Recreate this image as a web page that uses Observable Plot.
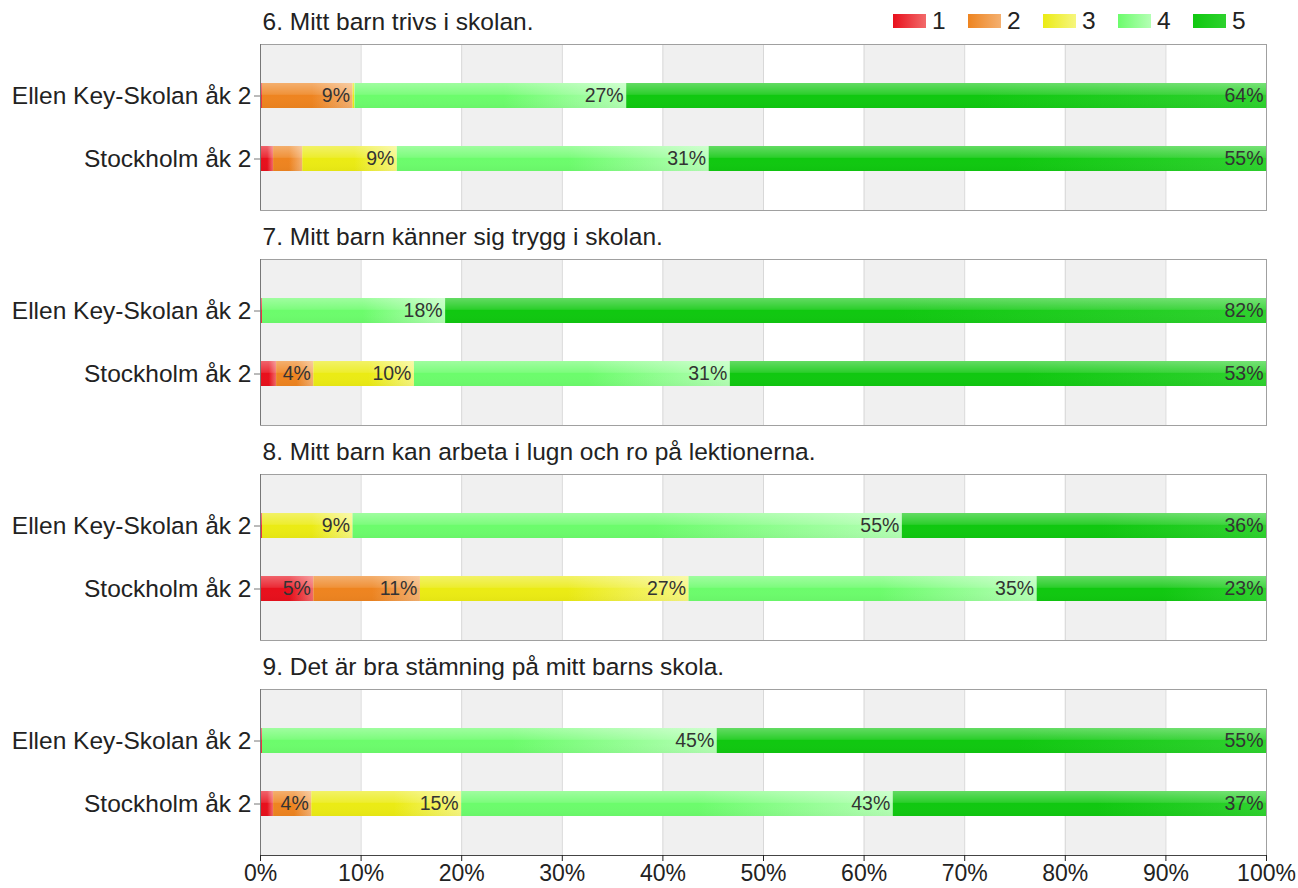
<!DOCTYPE html>
<html>
<head>
<meta charset="utf-8">
<script src="https://cdn.jsdelivr.net/npm/d3@7"></script>
<script src="https://cdn.jsdelivr.net/npm/@observablehq/plot@0.6"></script>
<style>
  html, body { margin: 0; padding: 0; background: #fff; }
  #wrap { position: relative; width: 1298px; height: 888px; font-family: "Liberation Sans", Arial, sans-serif; }
  #chart { position: absolute; left: 0; top: 0; }
  #legend { position: absolute; left: 893px; top: 7px; display: flex; align-items: center; font-size: 24.5px; color: #222; }
  .item { display: flex; align-items: center; width: 75px; }
  .sw { width: 33px; height: 14px; margin-right: 6px; }
</style>
</head>
<body>
<div id="wrap">
  <div id="chart"></div>
  <div id="legend"></div>
</div>
<script>
const questions = [
  "6. Mitt barn trivs i skolan.",
  "7. Mitt barn känner sig trygg i skolan.",
  "8. Mitt barn kan arbeta i lugn och ro på lektionerna.",
  "9. Det är bra stämning på mitt barns skola."
];
const groups = ["Ellen Key-Skolan åk 2", "Stockholm åk 2"];
const levels = ["1", "2", "3", "4", "5"];
// percentages per level 1..5, one row per question
const ellenKey = [
  [0.2, 9.0, 0.2, 27.0, 63.6],
  [0.2, 0, 0, 18.2, 81.6],
  [0.2, 0, 9.0, 54.6, 36.2],
  [0.2, 0, 0, 45.2, 54.6]
];
const stockholm = [
  [1.3, 2.9, 9.4, 31.0, 55.4],
  [1.6, 3.7, 10.0, 31.4, 53.3],
  [5.3, 10.6, 26.7, 34.6, 22.8],
  [1.3, 3.8, 14.9, 42.9, 37.1]
];
const baseColors = ["#e8101c", "#ee8420", "#ebeb14", "#6cfc6c", "#10c810"];
const lightColors = ["#f26a6a", "#f4b070", "#f6f67e", "#b4ffb4", "#2ed22e"];
const xTicks = [0, 10, 20, 30, 40, 50, 60, 70, 80, 90, 100];

const rows = [];
questions.forEach((q, qi) => {
  [ellenKey, stockholm].forEach((src, gi) => {
    src[qi].forEach((v, li) => {
      if (v > 0) rows.push({question: q, group: groups[gi], level: levels[li], li, value: v});
    });
  });
});
const bands = d3.range(0, 100, 20).map(a => ({x1: a, x2: a + 10}));
const lastQ = questions[questions.length - 1];

const plot = Plot.plot({
  width: 1298,
  height: 888,
  marginTop: 44,
  marginBottom: 33,
  marginLeft: 260,
  marginRight: 32,
  style: {fontFamily: '"Liberation Sans", Arial, sans-serif', color: "#222", background: "transparent"},
  x: {domain: [0, 100]},
  y: {domain: groups, paddingInner: 0.6, paddingOuter: 0.6},
  fy: {domain: questions, paddingInner: 0.228, paddingOuter: 0, axis: null},
  color: {type: "identity"},
  marks: [
    Plot.rectX(bands, {x1: "x1", x2: "x2", fill: "#f0f0f0"}),
    Plot.ruleX(xTicks.slice(1, -1), {stroke: "#d8d8d8"}),
    Plot.barX(rows, Plot.stackX({x: "value", y: "group", fy: "question", fill: d => `url(#grad${d.li})`})),
    Plot.barX(rows, Plot.stackX({x: "value", y: "group", fy: "question", fill: "url(#gloss)"})),
    Plot.text(rows, Plot.stackX2({
      x: "value", y: "group", fy: "question",
      text: d => d.value >= 3.5 ? Math.round(d.value) + "%" : "",
      textAnchor: "end", dx: -3, fontSize: 19.5, fill: "#333"
    })),
    Plot.frame({stroke: "#a0a0a0"}),
    Plot.ruleX([0], {stroke: "#777"}),
    Plot.frame({anchor: "bottom", facetAnchor: "bottom", stroke: "#444"}),
    Plot.text(questions, {fy: d => d, text: d => d, frameAnchor: "top-left", textAnchor: "start", lineAnchor: "middle", dy: -22, dx: 2, fontSize: 24.5, fill: "#222"}),
    Plot.axisY({fontSize: 24.5, tickSize: 6, tickPadding: 3, label: null, stroke: "#777", fill: "#222"}),
    Plot.axisX({ticks: xTicks, tickFormat: d => d + "%", fontSize: 23, tickSize: 6, tickPadding: 3, label: null, fill: "#222"})
  ]
});
document.getElementById("chart").appendChild(plot);

// gradient definitions
const svg = d3.select(plot);
const defs = svg.insert("defs", ":first-child");
baseColors.forEach((c, i) => {
  const g = defs.append("linearGradient").attr("id", "grad" + i).attr("x1", 0).attr("x2", 1).attr("y1", 0).attr("y2", 0);
  g.append("stop").attr("offset", "0").attr("stop-color", c);
  g.append("stop").attr("offset", "0.55").attr("stop-color", c);
  g.append("stop").attr("offset", "1").attr("stop-color", lightColors[i]);
});
const gl = defs.append("linearGradient").attr("id", "gloss").attr("x1", 0).attr("x2", 0).attr("y1", 0).attr("y2", 1);
gl.append("stop").attr("offset", "0").attr("stop-color", "#fff").attr("stop-opacity", 0.35);
gl.append("stop").attr("offset", "0.45").attr("stop-color", "#fff").attr("stop-opacity", 0.12);
gl.append("stop").attr("offset", "0.5").attr("stop-color", "#fff").attr("stop-opacity", 0);
gl.append("stop").attr("offset", "1").attr("stop-color", "#000").attr("stop-opacity", 0.03);

// legend
const legend = d3.select("#legend");
levels.forEach((l, i) => {
  const it = legend.append("div").attr("class", "item");
  it.append("div").attr("class", "sw").style("background", `linear-gradient(to right, ${baseColors[i]}, ${lightColors[i]})`);
  it.append("span").text(l);
});
</script>
</body>
</html>
